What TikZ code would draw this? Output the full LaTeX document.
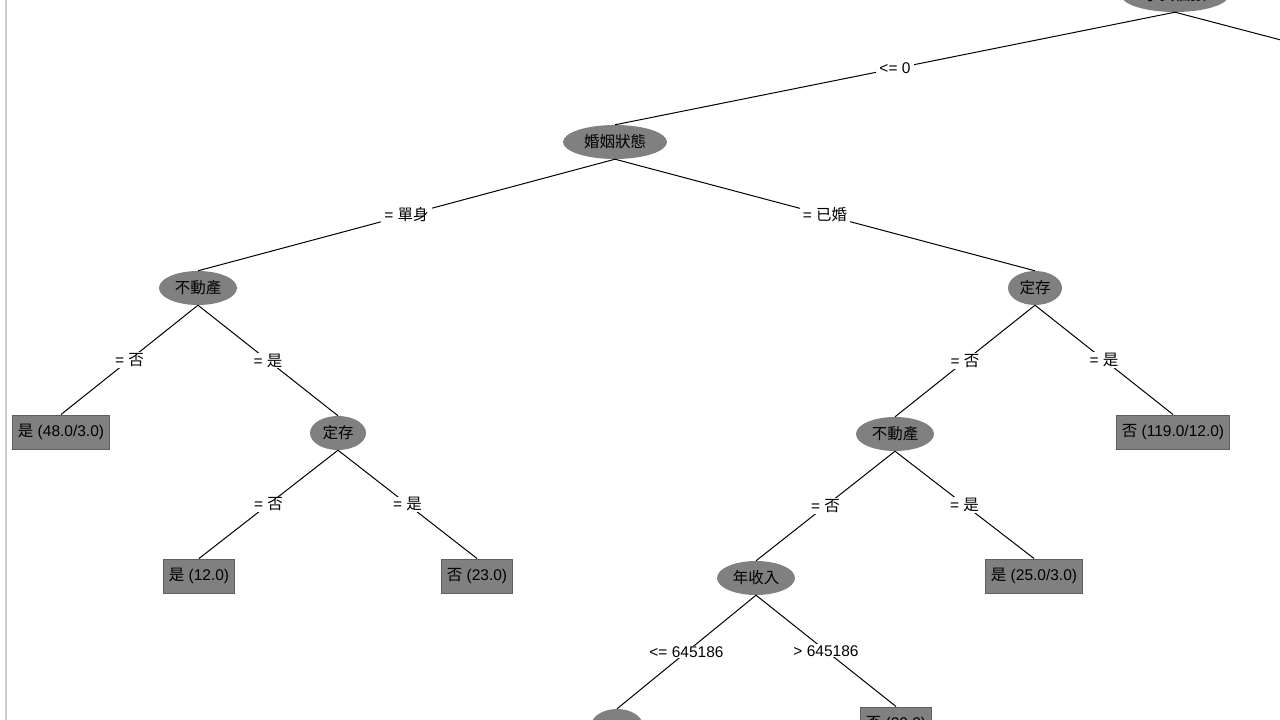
\documentclass[tikz,border=0pt]{standalone}
\usepackage{fontspec}
\setmainfont{Liberation Sans}
\newfontfamily\cjk{Noto Sans CJK TC}
\usetikzlibrary{shapes.geometric}

\definecolor{nodegray}{RGB}{128,128,128}
\definecolor{boxline}{RGB}{95,95,95}
\definecolor{frame}{RGB}{205,205,205}

\tikzset{
  attr/.style={ellipse, fill=nodegray, inner sep=0pt, minimum width=78pt,
    minimum height=34pt, font=\fontsize{15.5}{17}\selectfont},
  leaf/.style={rectangle, fill=nodegray, draw=boxline, line width=1pt,
    inner xsep=5pt, inner ysep=0pt, minimum height=34pt,
    font=\fontsize{15.5}{17}\selectfont},
  cond/.style={fill=white, inner xsep=3pt, inner ysep=1pt,
    font=\fontsize{15.5}{17}\selectfont},
  branch/.style={draw=black, line width=1pt}
}

\begin{document}
\begin{tikzpicture}[x=1pt, y=-1pt]
  \useasboundingbox[clip] (0,0) rectangle (1280,720);
  \fill[white] (0,0) rectangle (1280,720);

  % bord de la fenetre
  \draw[frame, line width=2pt] (6,0) -- (6,720);

  % Noeuds
  \node[attr, minimum width=108pt] (root) at (1175,-5) {\cjk 子女個數};
  \coordinate (rootR) at (1300,45);
  \node[attr, minimum width=104pt] (marital) at (615,142) {\cjk 婚姻狀態};

  \node[attr] (estateA) at (198,288) {\cjk 不動產};
  \node[leaf] (leafA) at (61,432) {{\cjk 是} (48.0/3.0)};
  \node[attr, minimum width=56pt] (depositA) at (338,433) {\cjk 定存};
  \node[leaf] (leafB) at (199,576) {{\cjk 是} (12.0)};
  \node[leaf] (leafC) at (477,576) {{\cjk 否} (23.0)};

  \node[attr, minimum width=54pt] (depositB) at (1035,288) {\cjk 定存};
  \node[attr] (estateB) at (895,434) {\cjk 不動產};
  \node[leaf] (leafD) at (1173,432) {{\cjk 否} (119.0/12.0)};
  \node[attr] (income) at (756,578) {\cjk 年收入};
  \node[leaf] (leafE) at (1034,576) {{\cjk 是} (25.0/3.0)};
  \node[attr, minimum width=52pt] (lower) at (617,726) {};
  \node[leaf] (leafF) at (896,724) {{\cjk 否} (20.0)};

  % Branches
  \draw[branch] (root.south) -- node[cond] {<= 0} (marital.north);
  \draw[branch] (root.south) -- (rootR);

  \draw[branch] (marital.south) -- node[cond] {= {\cjk 單身}} (estateA.north);
  \draw[branch] (marital.south) -- node[cond] {= {\cjk 已婚}} (depositB.north);

  \draw[branch] (estateA.south) -- node[cond] {= {\cjk 否}} (leafA.north);
  \draw[branch] (estateA.south) -- node[cond] {= {\cjk 是}} (depositA.north);
  \draw[branch] (depositA.south) -- node[cond] {= {\cjk 否}} (leafB.north);
  \draw[branch] (depositA.south) -- node[cond] {= {\cjk 是}} (leafC.north);

  \draw[branch] (depositB.south) -- node[cond] {= {\cjk 否}} (estateB.north);
  \draw[branch] (depositB.south) -- node[cond] {= {\cjk 是}} (leafD.north);
  \draw[branch] (estateB.south) -- node[cond] {= {\cjk 否}} (income.north);
  \draw[branch] (estateB.south) -- node[cond] {= {\cjk 是}} (leafE.north);
  \draw[branch] (income.south) -- node[cond] {<= 645186} (lower.north);
  \draw[branch] (income.south) -- node[cond] {> 645186} (leafF.north);

\end{tikzpicture}
\end{document}
